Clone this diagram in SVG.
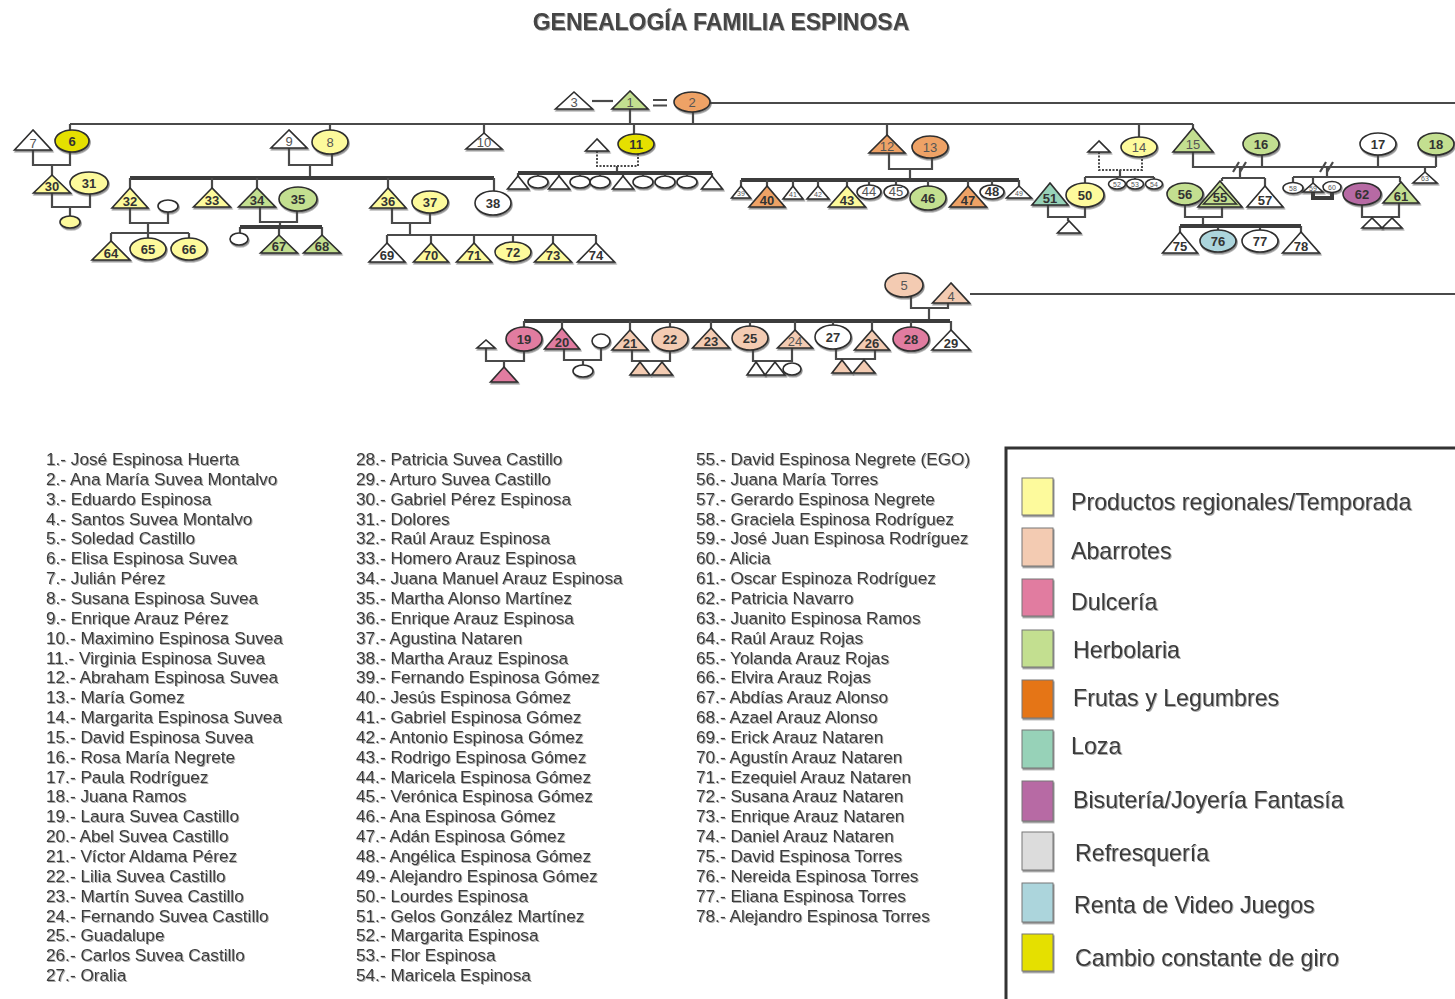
<svg xmlns="http://www.w3.org/2000/svg" width="1455" height="999" viewBox="0 0 1455 999">
<defs>
<filter id="sh" x="-30%" y="-30%" width="160%" height="170%"><feDropShadow dx="1" dy="1.6" stdDeviation="0.6" flood-color="#444" flood-opacity="0.6"/></filter>
<filter id="ts" x="-5%" y="-30%" width="110%" height="160%"><feDropShadow dx="1" dy="1" stdDeviation="0.6" flood-color="#888" flood-opacity="0.7"/></filter>
</defs>
<style>
.ln{stroke:#4a4a4a;stroke-width:2.2;fill:none}
.th{stroke:#3c3c3c;stroke-width:4;fill:none}
.dt{stroke:#4a4a4a;stroke-width:2;stroke-dasharray:2 1.5;fill:none}
.n{stroke:#2e2e2e;stroke-width:1.6;filter:url(#sh)}
.w{fill:#fff}.y{fill:#fdfa9c}.a{fill:#f3cbb2}.d{fill:#e17ba0}.h{fill:#c3df90}.f{fill:#eea266}.l{fill:#97d2b8}.b{fill:#b76ba4}.v{fill:#acd5dc}.c{fill:#e5e000}.r{fill:#dcdcdc}.o{fill:#e57418}
.t{font-family:"Liberation Sans",Arial,sans-serif;font-size:13px;font-weight:bold;fill:#333;text-anchor:middle}
.tn{font-family:"Liberation Sans",Arial,sans-serif;font-size:13px;fill:#555;text-anchor:middle}
.tt{font-family:"Liberation Sans",Arial,sans-serif;font-size:7px;fill:#555;text-anchor:middle}
.lst{font-family:"Liberation Sans",Arial,sans-serif;font-size:17.2px;fill:#3a3a3a;filter:url(#ts)}
.lg{font-family:"Liberation Sans",Arial,sans-serif;font-size:23.2px;fill:#3a3a3a;filter:url(#ts)}
.sw{stroke:#777;stroke-width:1;filter:url(#sh)}
</style>
<rect width="1455" height="999" fill="#fff"/>
<text x="721" y="30" font-family="Liberation Sans,Arial,sans-serif" font-size="23" font-weight="bold" fill="#444" text-anchor="middle" filter="url(#ts)">GENEALOGÍA FAMILIA ESPINOSA</text>

<g id="connectors">
<path class="ln" d="M592,101H613"/>
<path class="ln" stroke-width="2.5" d="M653,100H667M653,105.5H667"/>
<path class="ln" stroke-width="3.5" stroke="#555" d="M710,103H1455"/>
<path class="ln" stroke-width="2.5" d="M970,294H1455"/>
<path class="ln" d="M70,124H1193M630,109V124M693,112V124M70,124V130M330,124V130M484,124V133M634,124V134M887,124V135M1139,124V137M1193,124V129"/>
<path class="ln" d="M33,150V165H70V152M52,165V175"/>
<path class="ln" d="M52,193V207H90V194M70,207V216"/>
<path class="ln" d="M289,148V165H332V154M310,165V178"/>
<path class="th" d="M130,178H494"/>
<path class="ln" d="M130,178V188M212,178V188M257,178V188M388,178V188M494,178V191"/>
<path class="ln" d="M130,208V223H168V212M148,223V233M111,233H189M111,233V241M148,233V238M189,233V238"/>
<path class="ln" d="M260,207V222H297V211M280,222V227M240,227V233M279,227V235M322,227V235"/>
<path class="th" stroke-width="3" d="M240,227H322"/>
<path class="ln" d="M392,208V223H430V213M410,223V235M387,235H596M387,235V243M431,235V243M474,235V243M513,235V242M553,235V243M596,235V243"/>
<path class="dt" d="M597,151V166H638V154"/>
<path class="ln" d="M617,166V173M518,173V176M538,173V176M559,173V176M580,173V176M600,173V176M623,173V176M643,173V176M665,173V176M687,173V176M712,173V176"/>
<path class="th" stroke-width="2.5" d="M518,173H712"/>
<path class="ln" d="M889,153V169H932V158M910,169V180"/>
<path class="th" d="M741,180H1019"/>
<path class="ln" d="M741,180V186M767,180V186M793,180V186M818,180V186M847,180V186M869,180V185M896,180V185M928,180V186M968,180V186M992,180V185M1019,180V186"/>
<path class="dt" d="M1099,152V170H1142V157"/>
<path class="ln" d="M1120,170V177M1085,177H1154M1085,177V183M1117,177V179M1135,177V179M1154,177V179"/>
<path class="ln" d="M1048,205V217H1085V207M1068,217V221"/>
<path class="ln" d="M1193,152V167H1436M1262,155V167M1378,155V167M1436,155V167M1425,167V172"/>
<path class="ln" d="M1240,167V178M1222,178H1265M1222,178V181M1265,178V186"/>
<path class="ln" stroke-width="1.5" d="M1233,172L1239,162M1240,172L1246,162M1320,172L1326,162M1327,172L1333,162"/>
<path class="ln" d="M1185,205V217H1222V207M1203,217V226M1180,226V232M1218,226V230M1260,226V230M1301,226V232"/>
<path class="th" stroke-width="3.5" d="M1180,226H1301"/>
<path class="ln" d="M1327,167V177M1293,177H1400M1293,177V182.5M1313,177V183M1400,177V182"/>
<path class="th" stroke-width="3.5" stroke="#222" d="M1313,192V198H1332V192"/>
<path class="ln" d="M1362,205V217H1399V203"/>
<path class="ln" d="M911,297V308H948V303M929,308V321"/>
<path class="th" d="M524,321H950"/>
<path class="ln" d="M524,321V327M562,321V328M630,321V330M670,321V327M711,321V328M750,321V326M795,321V330M833,321V325M872,321V330M911,321V327M951,321V330"/>
<path class="ln" d="M486,348V361H524V351M504,361V367"/>
<path class="ln" d="M564,349V360H601V348M583,360V365"/>
<path class="ln" d="M632,350V361H670V351"/>
<path class="ln" d="M753,350V361H792V348"/>
<path class="ln" d="M836,349V359H875V350"/>
</g>

<g id="n3"><polygon class="n w" points="574,92 555.5,109 592.5,109"/><text class="tn" x="574" y="106.5">3</text></g>
<g id="n1"><polygon class="n h" points="630,91 612,109 648,109"/><text class="tn" x="630" y="106.5">1</text></g>
<g id="n2"><ellipse class="n f" cx="692" cy="102" rx="18" ry="10"/><text class="tn" x="692" y="106.5">2</text></g>
<g id="n7"><polygon class="n w" points="33,130 14.5,150 51.5,150"/><text class="tn" x="33" y="147.5">7</text></g>
<g id="n6"><ellipse class="n c" cx="72" cy="141" rx="17" ry="11"/><text class="t" x="72" y="145.5">6</text></g>
<g id="n9"><polygon class="n w" points="289,130 271,148 307,148"/><text class="tn" x="289" y="145.5">9</text></g>
<g id="n8"><ellipse class="n y" cx="330" cy="142" rx="18" ry="12"/><text class="tn" x="330" y="146.5">8</text></g>
<g id="n10"><polygon class="n w" points="484,133 466,149 502,149"/><text class="tn" x="484" y="146.5">10</text></g>
<g id="n11"><ellipse class="n c" cx="636" cy="144" rx="18" ry="10"/><text class="t" x="636" y="148.5">11</text></g>
<g id="n12"><polygon class="n f" points="887,135 869,153 905,153"/><text class="tn" x="887" y="150.5">12</text></g>
<g id="n13"><ellipse class="n f" cx="930" cy="147" rx="18" ry="11"/><text class="tn" x="930" y="151.5">13</text></g>
<g id="n14"><ellipse class="n y" cx="1139" cy="147" rx="18" ry="10"/><text class="tn" x="1139" y="151.5">14</text></g>
<g id="n15"><polygon class="n h" points="1193,128 1173,152 1213,152"/><text class="tn" x="1193" y="148.5">15</text></g>
<g id="n16"><ellipse class="n h" cx="1261" cy="144" rx="18" ry="11"/><text class="t" x="1261" y="148.5">16</text></g>
<g id="n17"><ellipse class="n w" cx="1378" cy="144" rx="18" ry="11"/><text class="t" x="1378" y="148.5">17</text></g>
<g id="n18"><ellipse class="n h" cx="1436" cy="144" rx="18" ry="11"/><text class="t" x="1436" y="148.5">18</text></g>

<g id="n30"><polygon class="n y" points="52,175 33.5,193 70.5,193"/><text class="t" x="52" y="190.5">30</text></g>
<g id="n31"><ellipse class="n y" cx="89" cy="183" rx="19" ry="11"/><text class="t" x="89" y="187.5">31</text></g>
<g id="u3031"><ellipse class="n y" cx="70" cy="222" rx="10" ry="6"/></g>
<g id="n32"><polygon class="n y" points="130,188 112,208 148,208"/><text class="t" x="130" y="205.5">32</text></g>
<g id="u32w"><ellipse class="n w" cx="168" cy="206" rx="10" ry="6"/></g>
<g id="n33"><polygon class="n y" points="212,188 193.5,207 230.5,207"/><text class="t" x="212" y="204.5">33</text></g>
<g id="n34"><polygon class="n h" points="257,188 238.5,207 275.5,207"/><text class="t" x="257" y="204.5">34</text></g>
<g id="n35"><ellipse class="n h" cx="298" cy="199" rx="19" ry="12"/><text class="t" x="298" y="203.5">35</text></g>
<g id="u34c"><ellipse class="n w" cx="239" cy="239" rx="9" ry="6"/></g>
<g id="n36"><polygon class="n y" points="388,188 370,208 406,208"/><text class="t" x="388" y="205.5">36</text></g>
<g id="n37"><ellipse class="n y" cx="430" cy="202" rx="18" ry="11"/><text class="t" x="430" y="206.5">37</text></g>
<g id="n38"><ellipse class="n w" cx="493" cy="203" rx="18" ry="12"/><text class="t" x="493" y="207.5">38</text></g>
<g id="n64"><polygon class="n y" points="111,241 92,260 130,260"/><text class="t" x="111" y="257.5">64</text></g>
<g id="n65"><ellipse class="n y" cx="148" cy="249" rx="18" ry="11"/><text class="t" x="148" y="253.5">65</text></g>
<g id="n66"><ellipse class="n y" cx="189" cy="249" rx="18" ry="11"/><text class="t" x="189" y="253.5">66</text></g>
<g id="n67"><polygon class="n h" points="279,235 260.5,253 297.5,253"/><text class="t" x="279" y="250.5">67</text></g>
<g id="n68"><polygon class="n h" points="322,235 303.5,253 340.5,253"/><text class="t" x="322" y="250.5">68</text></g>
<g id="n69"><polygon class="n w" points="387,243 369,262 405,262"/><text class="t" x="387" y="259.5">69</text></g>
<g id="n70"><polygon class="n y" points="431,243 413.5,262 448.5,262"/><text class="t" x="431" y="259.5">70</text></g>
<g id="n71"><polygon class="n y" points="474,243 456.5,262 491.5,262"/><text class="t" x="474" y="259.5">71</text></g>
<g id="n72"><ellipse class="n y" cx="513" cy="252" rx="18" ry="10"/><text class="t" x="513" y="256.5">72</text></g>
<g id="n73"><polygon class="n y" points="553,243 534.5,262 571.5,262"/><text class="t" x="553" y="259.5">73</text></g>
<g id="n74"><polygon class="n w" points="596,243 577.5,262 614.5,262"/><text class="t" x="596" y="259.5">74</text></g>

<g id="u11h"><polygon class="n w" points="597,139 585.5,151 608.5,151"/></g>
<g id="u11c">
<polygon class="n w" points="518,176 507.5,189 528.5,189"/>
<ellipse class="n w" cx="538" cy="182" rx="10" ry="6"/>
<polygon class="n w" points="559,176 548.5,189 569.5,189"/>
<ellipse class="n w" cx="580" cy="182" rx="10" ry="6"/>
<ellipse class="n w" cx="600" cy="182" rx="10" ry="6"/>
<polygon class="n w" points="623,176 612.5,189 633.5,189"/>
<ellipse class="n w" cx="643" cy="182" rx="10" ry="6"/>
<ellipse class="n w" cx="665" cy="182" rx="10" ry="6"/>
<ellipse class="n w" cx="687" cy="182" rx="10" ry="6"/>
<polygon class="n w" points="712,176 701.5,189 722.5,189"/>
</g>

<g id="n39"><polygon class="n w" points="741,186 731.5,198 750.5,198"/><text class="tt" x="741" y="196">39</text></g>
<g id="n40"><polygon class="n f" points="767,186 749,207 785,207"/><text class="t" x="767" y="204.5">40</text></g>
<g id="n41"><polygon class="n w" points="793,186 783,199 803,199"/><text class="tt" x="793" y="197">41</text></g>
<g id="n42"><polygon class="n w" points="818,186 807,199 829,199"/><text class="tt" x="818" y="197">42</text></g>
<g id="n43"><polygon class="n y" points="847,186 828.5,207 865.5,207"/><text class="t" x="847" y="204.5">43</text></g>
<g id="n44"><ellipse class="n w" cx="869" cy="192" rx="12" ry="7"/><text class="tn" x="869" y="196" font-size="10.5">44</text></g>
<g id="n45"><ellipse class="n w" cx="896" cy="192" rx="12" ry="7"/><text class="tn" x="896" y="196" font-size="10.5">45</text></g>
<g id="n46"><ellipse class="n h" cx="928" cy="198" rx="18" ry="12"/><text class="t" x="928" y="202.5">46</text></g>
<g id="n47"><polygon class="n f" points="968,186 949.5,207 986.5,207"/><text class="t" x="968" y="204.5">47</text></g>
<g id="n48"><ellipse class="n w" cx="992" cy="192" rx="12" ry="7"/><text class="t" x="992" y="196" font-size="11">48</text></g>
<g id="n49"><polygon class="n w" points="1019,186 1006.5,198 1031.5,198"/><text class="tt" x="1019" y="196">49</text></g>

<g id="u14h"><polygon class="n w" points="1099,141 1088,152 1110,152"/></g>
<g id="n51"><polygon class="n l" points="1050,183 1032,205 1068,205"/><text class="t" x="1050" y="202.5">51</text></g>
<g id="n50"><ellipse class="n y" cx="1085" cy="195" rx="19" ry="12"/><text class="t" x="1085" y="199.5">50</text></g>
<g id="n52"><ellipse class="n w" cx="1117" cy="184" rx="8.5" ry="5"/><text class="tt" x="1117" y="186.5">52</text></g>
<g id="n53"><ellipse class="n w" cx="1135" cy="184" rx="8.5" ry="5"/><text class="tt" x="1135" y="186.5">53</text></g>
<g id="n54"><ellipse class="n w" cx="1154" cy="184" rx="8.5" ry="5"/><text class="tt" x="1154" y="186.5">54</text></g>
<g id="u51c"><polygon class="n w" points="1069,221 1057.5,233 1080.5,233"/></g>

<g id="n56"><ellipse class="n h" cx="1185" cy="194" rx="18" ry="11"/><text class="t" x="1185" y="198.5">56</text></g>
<g id="n55"><polygon class="n h" points="1220,181 1198,207 1242,207"/><polygon fill="none" stroke="#2e2e2e" stroke-width="1.4" points="1220,186.5 1203.5,204 1236.5,204"/><text class="t" x="1220" y="202">55</text></g>
<g id="n57"><polygon class="n w" points="1265,186 1247,207 1283,207"/><text class="t" x="1265" y="204.5">57</text></g>
<g id="n75"><polygon class="n w" points="1180,232 1162.5,253 1197.5,253"/><text class="t" x="1180" y="250.5">75</text></g>
<g id="n76"><ellipse class="n v" cx="1218" cy="241" rx="18" ry="11"/><text class="t" x="1218" y="245.5">76</text></g>
<g id="n77"><ellipse class="n w" cx="1260" cy="241" rx="18" ry="11"/><text class="t" x="1260" y="245.5">77</text></g>
<g id="n78"><polygon class="n w" points="1301,232 1282.5,253 1319.5,253"/><text class="t" x="1301" y="250.5">78</text></g>

<g id="n58"><ellipse class="n w" cx="1293" cy="188" rx="10" ry="5.5"/><text class="tt" x="1293" y="190.5">58</text></g>
<g id="n59"><polygon class="n w" points="1313,183 1303,192 1323,192"/><text class="tt" x="1313" y="190.5">59</text></g>
<g id="n60"><ellipse class="n w" cx="1332" cy="187" rx="9" ry="5.5"/><text class="tt" x="1332" y="189.5">60</text></g>
<g id="n62"><ellipse class="n b" cx="1362" cy="194" rx="19" ry="11"/><text class="t" x="1362" y="198.5">62</text></g>
<g id="n61"><polygon class="n h" points="1401,182 1383,203 1419,203"/><text class="t" x="1401" y="200.5">61</text></g>
<g id="u61c"><polygon class="n w" points="1372,218 1362,228 1382,228"/><polygon class="n w" points="1392,218 1382,228 1402,228"/></g>
<g id="n63"><polygon class="n w" points="1425,172 1413,183 1437,183"/><text class="tt" x="1425" y="181">63</text></g>

<g id="n5"><ellipse class="n a" cx="904" cy="285" rx="19" ry="12"/><text class="tn" x="904" y="289.5">5</text></g>
<g id="n4"><polygon class="n a" points="951,283 932.5,303 969.5,303"/><text class="tn" x="951" y="300.5">4</text></g>
<g id="n19"><ellipse class="n d" cx="524" cy="339" rx="18" ry="12"/><text class="t" x="524" y="343.5">19</text></g>
<g id="n20"><polygon class="n d" points="562,328 544.5,349 579.5,349"/><text class="t" x="562" y="346.5">20</text></g>
<g id="n21"><polygon class="n a" points="630,330 612,350 648,350"/><text class="t" x="630" y="347.5">21</text></g>
<g id="n22"><ellipse class="n a" cx="670" cy="339" rx="18" ry="12"/><text class="t" x="670" y="343.5">22</text></g>
<g id="n23"><polygon class="n a" points="711,328 692.5,348 729.5,348"/><text class="t" x="711" y="345.5">23</text></g>
<g id="n25"><ellipse class="n a" cx="750" cy="338" rx="18" ry="12"/><text class="t" x="750" y="342.5">25</text></g>
<g id="n24"><polygon class="n a" points="795,330 777.5,348 812.5,348"/><text class="tn" x="795" y="345.5">24</text></g>
<g id="n27"><ellipse class="n w" cx="833" cy="337" rx="18" ry="12"/><text class="t" x="833" y="341.5">27</text></g>
<g id="n26"><polygon class="n a" points="872,330 854.5,350 889.5,350"/><text class="t" x="872" y="347.5">26</text></g>
<g id="n28"><ellipse class="n d" cx="911" cy="339" rx="18" ry="12"/><text class="t" x="911" y="343.5">28</text></g>
<g id="n29"><polygon class="n w" points="951,330 932,350 970,350"/><text class="t" x="951" y="347.5">29</text></g>
<g id="u19h"><polygon class="n w" points="486,340 477,348 495,348"/></g>
<g id="u19c"><polygon class="n d" points="504,367 490.5,382 517.5,382"/></g>
<g id="u20w"><ellipse class="n w" cx="601" cy="341" rx="9" ry="7"/></g>
<g id="u20c"><ellipse class="n w" cx="583" cy="371" rx="10" ry="6"/></g>
<g id="u21c"><polygon class="n a" points="640,362 630,375 650,375"/><polygon class="n a" points="662,362 651.5,375 672.5,375"/></g>
<g id="u24c"><polygon class="n w" points="756,362 747,375 765,375"/><polygon class="n w" points="775,362 765,375 785,375"/><ellipse class="n w" cx="792" cy="369" rx="9" ry="6"/></g>
<g id="u26c"><polygon class="n a" points="842,360 832,373 852,373"/><polygon class="n a" points="864,360 853,373 875,373"/></g>

<g id="names">
<text class="lst" x="46" y="465"><tspan x="46">1.- José Espinosa Huerta</tspan><tspan x="46" dy="19.85">2.- Ana María Suvea Montalvo</tspan><tspan x="46" dy="19.85">3.- Eduardo Espinosa</tspan><tspan x="46" dy="19.85">4.- Santos Suvea Montalvo</tspan><tspan x="46" dy="19.85">5.- Soledad Castillo</tspan><tspan x="46" dy="19.85">6.- Elisa Espinosa Suvea</tspan><tspan x="46" dy="19.85">7.- Julián Pérez</tspan><tspan x="46" dy="19.85">8.- Susana Espinosa Suvea</tspan><tspan x="46" dy="19.85">9.- Enrique Arauz Pérez</tspan><tspan x="46" dy="19.85">10.- Maximino Espinosa Suvea</tspan><tspan x="46" dy="19.85">11.- Virginia Espinosa Suvea</tspan><tspan x="46" dy="19.85">12.- Abraham Espinosa Suvea</tspan><tspan x="46" dy="19.85">13.- María Gomez</tspan><tspan x="46" dy="19.85">14.- Margarita Espinosa Suvea</tspan><tspan x="46" dy="19.85">15.- David Espinosa Suvea</tspan><tspan x="46" dy="19.85">16.- Rosa María Negrete</tspan><tspan x="46" dy="19.85">17.- Paula Rodríguez</tspan><tspan x="46" dy="19.85">18.- Juana Ramos</tspan><tspan x="46" dy="19.85">19.- Laura Suvea Castillo</tspan><tspan x="46" dy="19.85">20.- Abel Suvea Castillo</tspan><tspan x="46" dy="19.85">21.- Víctor Aldama Pérez</tspan><tspan x="46" dy="19.85">22.- Lilia Suvea Castillo</tspan><tspan x="46" dy="19.85">23.- Martín Suvea Castillo</tspan><tspan x="46" dy="19.85">24.- Fernando Suvea Castillo</tspan><tspan x="46" dy="19.85">25.- Guadalupe</tspan><tspan x="46" dy="19.85">26.- Carlos Suvea Castillo</tspan><tspan x="46" dy="19.85">27.- Oralia</tspan></text>
<text class="lst" x="356" y="465"><tspan x="356">28.- Patricia Suvea Castillo</tspan><tspan x="356" dy="19.85">29.- Arturo Suvea Castillo</tspan><tspan x="356" dy="19.85">30.- Gabriel Pérez Espinosa</tspan><tspan x="356" dy="19.85">31.- Dolores</tspan><tspan x="356" dy="19.85">32.- Raúl Arauz Espinosa</tspan><tspan x="356" dy="19.85">33.- Homero Arauz Espinosa</tspan><tspan x="356" dy="19.85">34.- Juana Manuel Arauz Espinosa</tspan><tspan x="356" dy="19.85">35.- Martha Alonso  Martínez</tspan><tspan x="356" dy="19.85">36.- Enrique Arauz Espinosa</tspan><tspan x="356" dy="19.85">37.- Agustina Nataren</tspan><tspan x="356" dy="19.85">38.- Martha Arauz Espinosa</tspan><tspan x="356" dy="19.85">39.- Fernando Espinosa Gómez</tspan><tspan x="356" dy="19.85">40.-  Jesús Espinosa Gómez</tspan><tspan x="356" dy="19.85">41.- Gabriel Espinosa Gómez</tspan><tspan x="356" dy="19.85">42.- Antonio Espinosa Gómez</tspan><tspan x="356" dy="19.85">43.- Rodrigo Espinosa Gómez</tspan><tspan x="356" dy="19.85">44.- Maricela Espinosa Gómez</tspan><tspan x="356" dy="19.85">45.- Verónica Espinosa Gómez</tspan><tspan x="356" dy="19.85">46.- Ana Espinosa Gómez</tspan><tspan x="356" dy="19.85">47.- Adán Espinosa Gómez</tspan><tspan x="356" dy="19.85">48.- Angélica Espinosa Gómez</tspan><tspan x="356" dy="19.85">49.- Alejandro Espinosa Gómez</tspan><tspan x="356" dy="19.85">50.- Lourdes Espinosa</tspan><tspan x="356" dy="19.85">51.- Gelos González Martínez</tspan><tspan x="356" dy="19.85">52.- Margarita Espinosa</tspan><tspan x="356" dy="19.85">53.- Flor Espinosa</tspan><tspan x="356" dy="19.85">54.- Maricela Espinosa</tspan></text>
<text class="lst" x="696" y="465"><tspan x="696">55.- David Espinosa Negrete (EGO)</tspan><tspan x="696" dy="19.85">56.- Juana María Torres</tspan><tspan x="696" dy="19.85">57.- Gerardo Espinosa Negrete</tspan><tspan x="696" dy="19.85">58.- Graciela Espinosa Rodríguez</tspan><tspan x="696" dy="19.85">59.- José Juan Espinosa Rodríguez</tspan><tspan x="696" dy="19.85">60.- Alicia</tspan><tspan x="696" dy="19.85">61.- Oscar Espinoza Rodríguez</tspan><tspan x="696" dy="19.85">62.- Patricia Navarro</tspan><tspan x="696" dy="19.85">63.- Juanito Espinosa Ramos</tspan><tspan x="696" dy="19.85">64.- Raúl Arauz Rojas</tspan><tspan x="696" dy="19.85">65.- Yolanda Arauz Rojas</tspan><tspan x="696" dy="19.85">66.- Elvira Arauz Rojas</tspan><tspan x="696" dy="19.85">67.- Abdías Arauz Alonso</tspan><tspan x="696" dy="19.85">68.- Azael Arauz Alonso</tspan><tspan x="696" dy="19.85">69.- Erick Arauz Nataren</tspan><tspan x="696" dy="19.85">70.- Agustín Arauz Nataren</tspan><tspan x="696" dy="19.85">71.- Ezequiel Arauz Nataren</tspan><tspan x="696" dy="19.85">72.- Susana Arauz Nataren</tspan><tspan x="696" dy="19.85">73.- Enrique Arauz Nataren</tspan><tspan x="696" dy="19.85">74.- Daniel Arauz Nataren</tspan><tspan x="696" dy="19.85">75.- David Espinosa Torres</tspan><tspan x="696" dy="19.85">76.- Nereida Espinosa Torres</tspan><tspan x="696" dy="19.85">77.- Eliana Espinosa Torres</tspan><tspan x="696" dy="19.85">78.- Alejandro Espinosa Torres</tspan></text>
</g>

<g id="legend">
<rect x="1006" y="448" width="470" height="570" fill="none" stroke="#333" stroke-width="3"/>
<rect class="sw y" x="1022" y="478" width="31" height="37"/>
<rect class="sw a" x="1022" y="528" width="31" height="38"/>
<rect class="sw d" x="1022" y="579" width="31" height="37"/>
<rect class="sw h" x="1022" y="630" width="31" height="37"/>
<rect class="sw o" x="1022" y="680" width="31" height="38"/>
<rect class="sw l" x="1022" y="730" width="31" height="38"/>
<rect class="sw b" x="1022" y="781" width="31" height="40"/>
<rect class="sw r" x="1022" y="832" width="31" height="38"/>
<rect class="sw v" x="1022" y="883" width="31" height="39"/>
<rect class="sw c" x="1022" y="934" width="31" height="37"/>
<text class="lg" x="1071" y="510">Productos regionales/Temporada</text>
<text class="lg" x="1071" y="559">Abarrotes</text>
<text class="lg" x="1071" y="610">Dulcería</text>
<text class="lg" x="1073" y="658">Herbolaria</text>
<text class="lg" x="1073" y="706">Frutas y Legumbres</text>
<text class="lg" x="1071" y="754">Loza</text>
<text class="lg" x="1073" y="808">Bisutería/Joyería Fantasía</text>
<text class="lg" x="1075" y="861">Refresquería</text>
<text class="lg" x="1074" y="913">Renta de Video Juegos</text>
<text class="lg" x="1075" y="966">Cambio constante de giro</text>
</g>
</svg>
